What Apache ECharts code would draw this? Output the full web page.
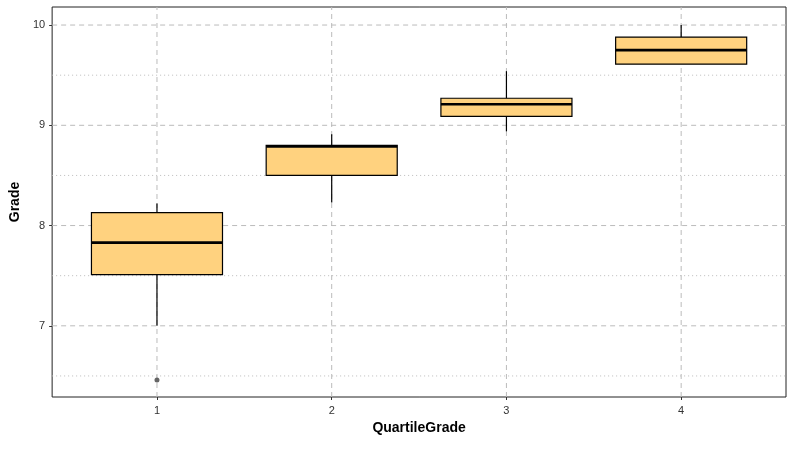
<!DOCTYPE html>
<html>
<head>
<meta charset="UTF-8">
<script src="https://cdn.jsdelivr.net/npm/echarts@6/dist/echarts.min.js"></script>
<style>
    html, body { margin: 0; padding: 0; background: #fff; }
    #chart { width: 794px; height: 461px; }
</style>
</head>
<body>
<div id="chart"></div>
<script>
    // box statistics per quartile group: [x, low, q1, median, q3, high]
    var groups = [1, 2, 3, 4];
    var lows    = [7.00, 8.23, 8.94, 9.61];
    var q1s     = [7.51, 8.50, 9.09, 9.61];
    var medians = [7.83, 8.79, 9.21, 9.75];
    var q3s     = [8.13, 8.80, 9.27, 9.88];
    var highs   = [8.22, 8.91, 9.54, 10.00];
    var outliers = [[1, 6.46]];
    var yTicks = [7, 8, 9, 10];
    var yMinor = [6.5, 7.5, 8.5, 9.5];

    var boxData = groups.map(function (g, i) {
        return [g, lows[i], q1s[i], medians[i], q3s[i], highs[i]];
    });

    var chart = echarts.init(document.getElementById('chart'));

    var gridLines = function (vals, horizontal, dash) {
        return {
            type: 'custom',
            silent: true,
            z: 1,
            data: vals.map(function (v) { return [v]; }),
            renderItem: function (params, api) {
                var v = api.value(0);
                var p1, p2;
                if (horizontal) {
                    p1 = api.coord([0.4, v]); p2 = api.coord([4.6, v]);
                } else {
                    p1 = api.coord([v, 6.29]); p2 = api.coord([v, 10.18]);
                }
                return {
                    type: 'line',
                    shape: { x1: p1[0], y1: p1[1], x2: p2[0], y2: p2[1] },
                    style: { stroke: '#bbb', lineWidth: 1, lineDash: dash }
                };
            }
        };
    };

    var option = {
        animation: false,
        grid: { left: 46, right: 8, top: 7, bottom: 64, show: true, borderColor: '#222', borderWidth: 1, backgroundColor: 'transparent' },
        xAxis: {
            type: 'value', min: 0.4, max: 4.6,
            name: 'QuartileGrade', nameLocation: 'middle', nameGap: 22,
            nameTextStyle: { fontSize: 14, fontWeight: 'bold', color: '#000', fontFamily: 'Liberation Sans' },
            splitLine: { show: false },
            axisLine: { show: false },
            axisTick: { show: true, customValues: groups, length: 3, lineStyle: { color: '#333' } },
            axisLabel: { customValues: groups, color: '#333', fontSize: 11, margin: 8, fontFamily: 'Liberation Sans' }
        },
        yAxis: {
            type: 'value', min: 6.29, max: 10.18,
            name: 'Grade', nameLocation: 'middle', nameGap: 30, nameRotate: 90,
            nameTextStyle: { fontSize: 14, fontWeight: 'bold', color: '#000', fontFamily: 'Liberation Sans' },
            splitLine: { show: false },
            axisLine: { show: false },
            axisTick: { show: true, customValues: yTicks, length: 3, lineStyle: { color: '#333' } },
            axisLabel: { customValues: yTicks, color: '#333', fontSize: 11, margin: 7, fontFamily: 'Liberation Sans' }
        },
        series: [
            gridLines(yMinor, true, [1, 3]),
            gridLines(yTicks, true, [5, 4]),
            gridLines(groups, false, [5, 4]),
            {
                type: 'custom',
                z: 5,
                data: boxData,
                renderItem: function (params, api) {
                    var x = api.value(0), hw = 0.375;
                    var lo = api.coord([x, api.value(1)]);
                    var q1 = api.coord([x - hw, api.value(2)]);
                    var md = api.coord([x - hw, api.value(3)]);
                    var q3 = api.coord([x + hw, api.value(4)]);
                    var hi = api.coord([x, api.value(5)]);
                    var mdR = api.coord([x + hw, api.value(3)]);
                    return {
                        type: 'group',
                        children: [
                            { type: 'line', shape: { x1: lo[0], y1: lo[1], x2: lo[0], y2: q1[1] }, style: { stroke: '#000', lineWidth: 1.2 } },
                            { type: 'line', shape: { x1: hi[0], y1: hi[1], x2: hi[0], y2: q3[1] }, style: { stroke: '#000', lineWidth: 1.2 } },
                            { type: 'rect', shape: { x: q1[0], y: q3[1], width: q3[0] - q1[0], height: q1[1] - q3[1] },
                              style: { fill: '#FFD27F', stroke: '#000', lineWidth: 1.2 } },
                            { type: 'line', shape: { x1: md[0], y1: md[1], x2: mdR[0], y2: md[1] }, style: { stroke: '#000', lineWidth: 2.6 } }
                        ]
                    };
                }
            },
            {
                type: 'scatter',
                z: 6,
                data: outliers,
                symbolSize: 5,
                itemStyle: { color: '#555', opacity: 0.9 }
            }
        ]
    };
    chart.setOption(option);
</script>
</body>
</html>
